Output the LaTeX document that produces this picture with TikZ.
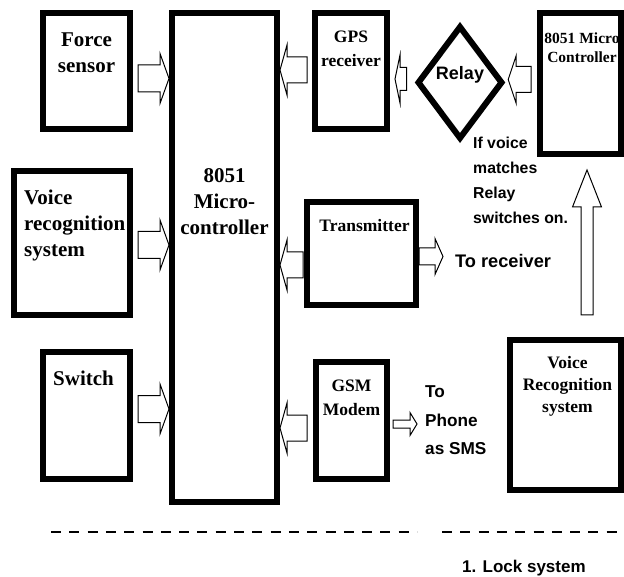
\documentclass[tikz,border=0pt]{standalone}
\usepackage{fontspec}
\setmainfont{Liberation Serif}
\setsansfont{Liberation Sans}
\usetikzlibrary{calc,shapes.geometric}

% hollow block arrow: tail, tip, shaft half width, head half width, head length
\newcommand{\blockarrow}[5]{%
  \draw[hollow] let \p1=#1, \p2=#2, \p3=($(\p2)!#5!(\p1)$) in
    ($(\p1)!#3!90:(\p2)$) -- ($(\p3)!#3!90:(\p2)$) -- ($(\p3)!#4!90:(\p2)$) -- (\p2)
    -- ($(\p3)!#4!-90:(\p2)$) -- ($(\p3)!#3!-90:(\p2)$) -- ($(\p1)!#3!-90:(\p2)$) -- cycle;}

\begin{document}
\begin{tikzpicture}[x=1pt, y=-1pt,
        box/.style={draw,line width=6pt,inner sep=0pt,outer sep=0pt},
        decision/.style={draw,diamond,line width=6pt,inner sep=0pt,outer sep=0pt},
        title/.style={anchor=north,align=center,inner sep=0pt,font=\bfseries\fontsize{21}{26}\selectfont},
        rtitle/.style={anchor=north,align=center,inner sep=0pt,font=\bfseries\fontsize{17.5}{24}\selectfont},
        note/.style={align=left,inner sep=0pt},
        hollow/.style={draw,fill=white,line width=1pt,line join=miter},
        sep/.style={line width=2pt,dash pattern=on 10pt off 8.3pt}
    ]
        \useasboundingbox (0,0) rectangle (624,577);

        % left column and controller
        \node[box,minimum width=87,minimum height=116,label={[title,yshift=-20]north:{Force\\sensor}}] (force) at (86.5,71) {};
        \node[box,minimum width=105,minimum height=489,label={[title,yshift=-155]north:{8051\\Micro-\\controller}}] (mcu) at (224.5,257.5) {};
        \node[box,minimum width=116,minimum height=144,label={[title,anchor=north west,align=left,xshift=10,yshift=-19]north west:{Voice\\recognition\\system}}] (voice) at (72,243) {};
        \node[box,minimum width=87,minimum height=127,label={[title,xshift=-3,yshift=-19]north:{Switch}}] (switch) at (86.5,415.5) {};

        % right side
        \node[box,minimum width=72,minimum height=116,label={[rtitle,yshift=-18]north:{GPS\\receiver}}] (gps) at (351,71) {};
        \node[decision,minimum width=83,minimum height=111,text height=14pt,text depth=19pt,
              font=\sffamily\bfseries\fontsize{18}{22}\selectfont] (relay) at (460,82.5) {Relay};
        \node[box,minimum width=81,minimum height=141,label={[rtitle,font=\bfseries\fontsize{15.5}{19.5}\selectfont,xshift=1.5,yshift=-19.5]north:{8051 Micro\\Controller}}] (ctrl) at (580.5,83.5) {};
        \node[box,minimum width=109,minimum height=103,label={[rtitle,xshift=3,yshift=-17]north:{Transmitter}}] (trans) at (361.5,253.5) {};
        \node[box,minimum width=71,minimum height=117,label={[rtitle,yshift=-18]north:{GSM\\Modem}}] (gsm) at (351.5,420.5) {};
        \node[box,minimum width=111,minimum height=150,label={[rtitle,font=\bfseries\fontsize{17.5}{22}\selectfont,xshift=2,yshift=-16]north:{Voice\\Recognition\\system}}] (vrec) at (565.5,415) {};

        % free texts
        \node[note,anchor=north west,font=\sffamily\bfseries\fontsize{15.8}{25}\selectfont] (ifvoice) at (473,136.5) {If voice\\matches\\Relay\\switches on.};
        \node[note,anchor=base west,font=\sffamily\bfseries\fontsize{18.2}{22}\selectfont] (torecv) at (455,268) {To receiver};
        \node[note,anchor=north west,font=\sffamily\bfseries\fontsize{17.2}{28.5}\selectfont] (phone) at (425,385.7) {To\\Phone\\as SMS};
        \node[note,anchor=base west,font=\sffamily\bfseries\fontsize{17}{21}\selectfont] (lock) at (462,572) {1. Lock system};

        % arrows into the controller
        \coordinate (fs) at ($(force.east)+(8,7.5)$);
        \coordinate (vs) at ($(voice.east)+(8,2)$);
        \coordinate (ss) at ($(switch.east)+(8,-6.5)$);
        \blockarrow{(fs)}{($(fs -| mcu.west)+(-3,0)$)}{13.5pt}{25pt}{9pt}
        \blockarrow{(vs)}{($(vs -| mcu.west)+(-3,0)$)}{13.5pt}{25pt}{9pt}
        \blockarrow{(ss)}{($(ss -| mcu.west)+(-3,0)$)}{13.5pt}{25pt}{9pt}

        \coordinate (gs) at ($(gps.west)+(-8,-1)$);
        \coordinate (ts) at ($(trans.west)+(-4,11.5)$);
        \coordinate (ms) at ($(gsm.west)+(-9,7.5)$);
        \blockarrow{(gs)}{($(gs -| mcu.east)+(3,0)$)}{13pt}{25pt}{7pt}
        \blockarrow{(ts)}{($(ts -| mcu.east)+(3,0)$)}{13pt}{25pt}{7pt}
        \blockarrow{(ms)}{($(ms -| mcu.east)+(3,0)$)}{13pt}{25pt}{7pt}

        % lock chain
        \coordinate (rs) at ($(relay.west)+(-12,-3.5)$);
        \coordinate (cs) at ($(ctrl.west)+(-9,-4)$);
        \coordinate (us) at ($(vrec.north)+(21.5,-25)$);
        \blockarrow{(rs)}{($(rs -| gps.east)+(8,0)$)}{11.5pt}{24pt}{5pt}
        \blockarrow{(cs)}{($(cs -| relay.east)+(6.7,0)$)}{13pt}{24pt}{8pt}
        \blockarrow{(us)}{($(us |- ctrl.south)+(0,16)$)}{6pt}{14.5pt}{37pt}

        % outputs
        \coordinate (xs) at ($(trans.east)+(3,3)$);
        \coordinate (ps) at ($(gsm.east)+(6,3.5)$);
        \blockarrow{(xs)}{($(xs -| torecv.west)+(-12,0)$)}{8.5pt}{18pt}{8pt}
        \blockarrow{(ps)}{($(ps -| phone.west)+(-8,0)$)}{4pt}{11.5pt}{7pt}

        \draw[sep] (51,532) -- (417,532);
        \draw[sep] (442,532) -- (624,532);
    \end{tikzpicture}
\end{document}
